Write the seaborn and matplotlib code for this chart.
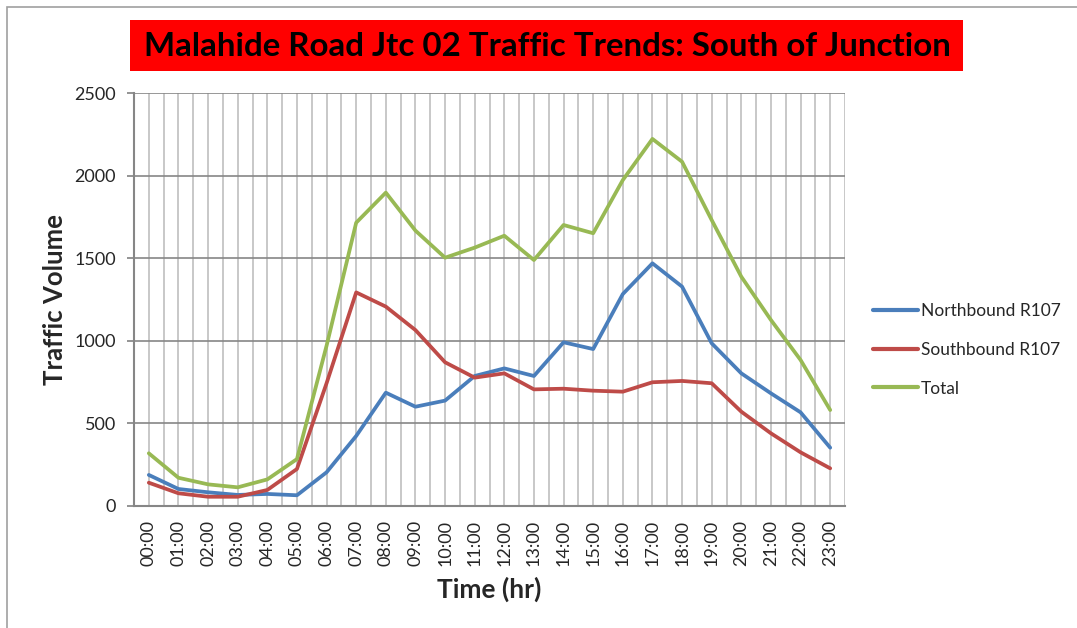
import matplotlib
matplotlib.use("Agg")
import matplotlib.pyplot as plt
import matplotlib.patches as mpatches
import seaborn as sns
import pandas as pd
import numpy as np

hours = ["00:00", "01:00", "02:00", "03:00", "04:00", "05:00", "06:00", "07:00",
         "08:00", "09:00", "10:00", "11:00", "12:00", "13:00", "14:00", "15:00",
         "16:00", "17:00", "18:00", "19:00", "20:00", "21:00", "22:00", "23:00"]
northbound = [188, 103, 83, 67, 73, 65, 204, 424, 686, 601, 638, 787,
              833, 787, 991, 950, 1283, 1469, 1328, 985, 803, 682, 567, 353]
southbound = [141, 77, 56, 56, 97, 224, 743, 1293, 1207, 1065, 870, 777,
              803, 706, 710, 698, 692, 749, 757, 743, 571, 440, 325, 228]
total = [319, 171, 131, 113, 161, 284, 970, 1715, 1897, 1667, 1503, 1564,
         1636, 1489, 1701, 1651, 1973, 2222, 2084, 1731, 1388, 1126, 884, 581]
series_names = ["Northbound R107", "Southbound R107", "Total"]
colors = ["#4A7EBB", "#BE4B48", "#98B954"]

df = pd.concat([
    pd.DataFrame({"Time": hours, "Volume": vals, "Series": name})
    for name, vals in zip(series_names, [northbound, southbound, total])
])

sns.set_theme(style="white")
plt.rcParams["font.family"] = ["Lato", "DejaVu Sans"]

W, H = 1077, 628
fig = plt.figure(figsize=(W / 100, H / 100), dpi=100)
ax = fig.add_axes([134 / W, 1 - 506 / H, (845 - 134) / W, (506 - 93) / H])

# gridlines
ax.set_ylim(0, 2500)
ax.set_xlim(-0.5, len(hours) - 0.5)
for xv in np.arange(-0.5, len(hours), 0.5):
    ax.axvline(xv, color="#BFBFBF", lw=1.2, zorder=0)
for yv in range(0, 2501, 500):
    ax.axhline(yv, color="#868686", lw=1.2, zorder=0.5)

sns.lineplot(data=df, x="Time", y="Volume", hue="Series", palette=colors,
             linewidth=2.7, ax=ax, legend=True, sort=False)

ax.set_yticks(range(0, 2501, 500))
ax.set_xticks(range(len(hours)))
ax.set_xticklabels(hours, rotation=90, fontsize=13)
ax.tick_params(axis="y", labelsize=13, length=5, color="#868686", direction="out", pad=8, left=True)
ax.tick_params(axis="x", length=0, pad=10)
for s in ["top", "right"]:
    ax.spines[s].set_visible(False)
for s in ["left", "bottom"]:
    ax.spines[s].set_color("#868686")
    ax.spines[s].set_linewidth(1.5)

ax.set_ylabel("Traffic Volume", fontsize=18.5, fontweight="bold", labelpad=5)
ax.set_xlabel("Time (hr)", fontsize=19, fontweight="bold", labelpad=8)

leg = ax.legend(loc="center left", bbox_to_anchor=(873 / W, 1 - 350 / H),
                bbox_transform=fig.transFigure, frameon=False, fontsize=12.5,
                handlelength=2.6, handletextpad=0.15, labelspacing=1.3,
                borderpad=0, borderaxespad=0)
for line in leg.get_lines():
    line.set_linewidth(3)

# title box
fig.patches.append(mpatches.Rectangle((130 / W, 1 - 71 / H), (963 - 130) / W, 51 / H,
                                      transform=fig.transFigure, facecolor="#FF0000",
                                      edgecolor="none", zorder=0))
fig.text(547 / W, 1 - 46 / H, "Malahide Road Jtc 02 Traffic Trends: South of Junction",
         ha="center", va="center", fontsize=23.8, fontweight="bold", color="black")

# chart border
fig.patches.append(mpatches.Rectangle((7 / W, -0.05), 1.1, 1 - 7 / H + 0.05,
                                      transform=fig.transFigure, facecolor="none",
                                      edgecolor="#A0A0A0", lw=1.2, zorder=0))

fig.savefig("out.png", dpi=100)
